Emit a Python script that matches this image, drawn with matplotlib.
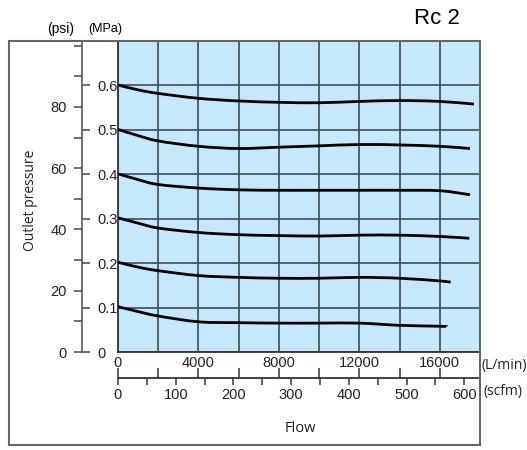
import numpy as np
import matplotlib
matplotlib.use("Agg")
import matplotlib.pyplot as plt
from matplotlib.patches import Rectangle, PathPatch
from matplotlib.path import Path
from matplotlib.ticker import MultipleLocator

# flow in L/min, outlet pressure in MPa
flow_pts = [0, 1000, 2000, 4000, 6000, 8000, 10000, 12000, 14000, 16000]
p06 = [0.601, 0.590, 0.582, 0.571, 0.565, 0.562, 0.561, 0.564, 0.566, 0.564]
p05 = [0.501, 0.487, 0.475, 0.463, 0.458, 0.461, 0.464, 0.467, 0.466, 0.463]
p04 = [0.401, 0.388, 0.377, 0.369, 0.365, 0.364, 0.364, 0.364, 0.364, 0.363]
p03 = [0.302, 0.290, 0.279, 0.269, 0.264, 0.262, 0.261, 0.263, 0.263, 0.260]
p02 = [0.202, 0.191, 0.183, 0.172, 0.168, 0.166, 0.166, 0.168, 0.166, 0.160]
p01 = [0.102, 0.091, 0.081, 0.068, 0.066, 0.065, 0.065, 0.065, 0.060, 0.058]
# last point of each curve (flow, pressure)
ends = [(17700, 0.558), (17500, 0.458), (17500, 0.354),
        (17470, 0.256), (16540, 0.157), (16340, 0.057)]
curves = [p06, p05, p04, p03, p02, p01]

lmin_ticks = [0, 4000, 8000, 12000, 16000]
scfm_ticks = [0, 100, 200, 300, 400, 500, 600]
psi_labels = [0, 20, 40, 60, 80]
mpa_labels = [0, 0.1, 0.2, 0.3, 0.4, 0.5, 0.6]
MPA2PSI = 145.038
SCFM2LMIN = 28.7   # as drawn on the chart scale

W, H = 527, 450
num_font = "Liberation Sans"
txt_font = "Open Sans"
tick_fs = 10.5


def smooth_path(xs, ys):
    # Catmull-Rom through the points, as cubic bezier segments
    pts = np.column_stack([xs, ys]).astype(float)
    verts = [pts[0]]
    codes = [Path.MOVETO]
    n = len(pts)
    for i in range(n - 1):
        p0 = pts[max(i - 1, 0)]
        p1 = pts[i]
        p2 = pts[i + 1]
        p3 = pts[min(i + 2, n - 1)]
        c1 = p1 + (p2 - p0) / 6
        c2 = p2 - (p3 - p1) / 6
        verts += [c1, c2, p2]
        codes += [Path.CURVE4] * 3
    return Path(verts, codes)


fig = plt.figure(figsize=(W / 100, H / 100), dpi=100)

def fx(px):
    return px / W

def fy(py):
    return 1 - py / H

left, right, top, bottom = 118, 480, 41, 352
pos = [fx(left), fy(bottom), fx(right) - fx(left), fy(top) - fy(bottom)]

# outer frame
fig.patches.append(Rectangle((fx(9), fy(445)), fx(480) - fx(9), fy(41) - fy(445),
                             transform=fig.transFigure, fill=False,
                             edgecolor="#666666", lw=1.5, zorder=0))

ax = fig.add_axes(pos)
ax.set_facecolor("#c6e8fa")
ax.set_xlim(0, 18000)
ax.set_ylim(0, 0.7)
ax.set_xticks(np.arange(0, 18001, 2000))
ax.set_xticklabels([str(v) if v in lmin_ticks else "" for v in np.arange(0, 18001, 2000)],
                   fontsize=tick_fs, family=num_font, color="#222222")
ax.set_yticks(np.arange(0, 0.71, 0.1))
ax.set_yticklabels([])
ax.tick_params(length=0, pad=3)
ax.grid(True, color="#3c4b57", lw=1.2)
ax.set_axisbelow(True)
for s in ax.spines.values():
    s.set_color("#2a3640")
    s.set_linewidth(1.3)

for ys, (xe, ye) in zip(curves, ends):
    pth = smooth_path(flow_pts + [xe], ys + [ye])
    ax.add_patch(PathPatch(pth, facecolor="none", edgecolor="black", lw=2,
                           capstyle="butt", zorder=3))

# pressure scales (psi left, MPa right of one line)
axp = fig.add_axes([fx(82), pos[1], 1e-5, pos[3]])
axp.set_ylim(0, 0.7 * MPA2PSI)
axp.set_xticks([])
for k in ["top", "right", "bottom"]:
    axp.spines[k].set_visible(False)
axp.spines["left"].set_color("#555555")
axp.spines["left"].set_linewidth(1.2)
axp.set_yticks(np.arange(0, 101, 10))
axp.set_yticklabels([str(v) if v in psi_labels else "" for v in range(0, 101, 10)],
                    fontsize=tick_fs, family=num_font, color="#222222")
axp.tick_params(axis="y", length=6, width=1.2, color="#555555", pad=5)
axp.patch.set_visible(False)

axm = axp.twinx()
axm.set_ylim(0, 0.7)
axm.set_yticks(mpa_labels)
axm.set_yticklabels([f"{v:g}" for v in mpa_labels], fontsize=tick_fs, family=num_font,
                    color="#222222")
axm.tick_params(axis="y", length=6, width=1.2, color="#555555", pad=5)
for s in axm.spines.values():
    s.set_visible(False)
axm.patch.set_visible(False)

# flow scales (L/min ticks up, scfm ticks down)
axf = fig.add_axes([pos[0], fy(378), pos[2], 1e-5])
axf.set_xlim(0, 18000)
axf.set_xticks(np.arange(0, 16001, 2000))
axf.set_xticklabels([])
axf.set_yticks([])
axf.tick_params(axis="x", direction="in", length=7, width=1.2, color="#444444")
for k in ["top", "right", "left"]:
    axf.spines[k].set_visible(False)
axf.spines["bottom"].set_color("#333333")
axf.spines["bottom"].set_linewidth(1.3)
axf.patch.set_visible(False)

axc = fig.add_axes([pos[0], fy(378), pos[2], 1e-5])
axc.set_xlim(0, 18000 / SCFM2LMIN)
axc.set_xticks(scfm_ticks)
axc.set_xticklabels([str(v) for v in scfm_ticks], fontsize=tick_fs, family=num_font,
                    color="#222222")
axc.xaxis.set_minor_locator(MultipleLocator(50))
axc.tick_params(axis="x", which="both", direction="out", length=5, width=1.2,
                color="#444444", pad=2)
axc.set_yticks([])
for s in axc.spines.values():
    s.set_visible(False)
axc.patch.set_visible(False)

# texts
fig.text(fx(61), fy(29), "(psi)", fontsize=10, family=num_font, ha="center", va="center")
fig.text(fx(105), fy(29), "(MPa)", fontsize=9, family=num_font, ha="center", va="center")
fig.text(fx(437), fy(19), "Rc 2", fontsize=16, family=num_font, ha="center", va="center")
fig.text(fx(30), fy(200), "Outlet pressure", fontsize=10, family=txt_font,
         rotation=90, ha="center", va="center", color="#222222")
fig.text(fx(300), fy(428), "Flow", fontsize=10.5, family=txt_font, ha="center",
         va="center", color="#222222")
fig.text(fx(482), fy(366), "(L/min)", fontsize=10, family=txt_font, ha="left",
         va="center", color="#222222")
fig.text(fx(484), fy(392), "(scfm)", fontsize=10, family=txt_font, ha="left",
         va="center", color="#222222")

fig.savefig("out.png", dpi=100)
